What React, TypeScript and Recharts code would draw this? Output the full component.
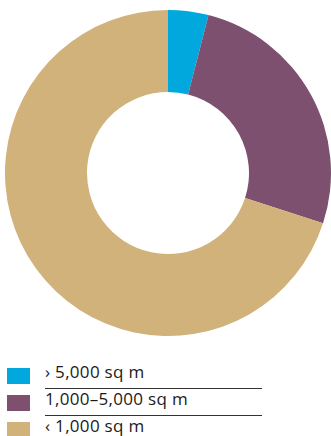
import { PieChart, Pie, Cell } from 'recharts';

const categories = ['› 5,000 sq m', '1,000–5,000 sq m', '‹ 1,000 sq m'];
const shares = [4, 26, 70];
const colors = ['#00a8de', '#7c506e', '#d1b27b'];

const data = categories.map((name, i) => ({ name, value: shares[i] }));

export default function App() {
  return (
    <div style={{ position: 'absolute', left: 0, top: 0, width: 331, height: 436, background: '#fff', fontFamily: '"Open Sans", "Noto Sans", sans-serif' }}>
      <PieChart width={331} height={345} margin={{ top: 0, right: 0, bottom: 0, left: 0 }}>
        <Pie
          data={data}
          dataKey="value"
          cx={168}
          cy={173}
          innerRadius={81}
          outerRadius={163}
          startAngle={90}
          endAngle={-270}
          stroke="none"
          isAnimationActive={false}
        >
          {data.map((d, i) => (
            <Cell key={d.name} fill={colors[i]} />
          ))}
        </Pie>
      </PieChart>
      {categories.map((c, i) => (
        <div key={c}>
          <div style={{ position: 'absolute', left: 7, top: 368 + i * 27, width: 23, height: 16, background: colors[i] }} />
          <div style={{ position: 'absolute', left: 45, top: 361 + i * 27, fontSize: 17, lineHeight: '22px', letterSpacing: 0.3, color: '#1a1a1a', whiteSpace: 'nowrap' }}>{c}</div>
          {i < categories.length - 1 && (
            <div style={{ position: 'absolute', left: 45, top: 388 + i * 27, width: 217, height: 1, background: '#333' }} />
          )}
        </div>
      ))}
    </div>
  );
}
